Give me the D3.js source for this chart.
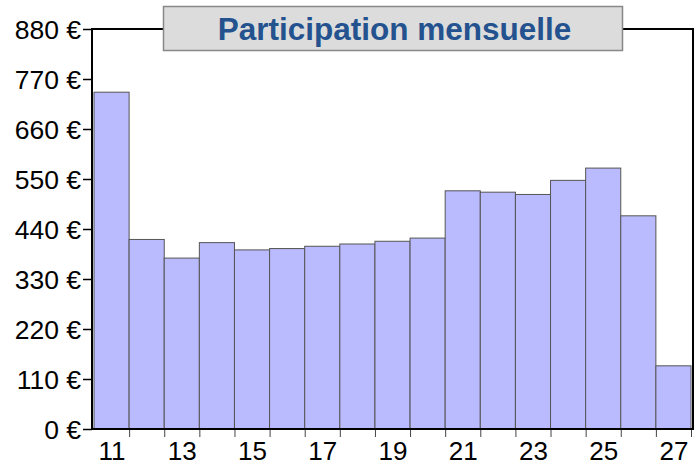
<!DOCTYPE html>
<html>
<head>
<meta charset="utf-8">
<script src="https://cdn.jsdelivr.net/npm/d3@7"></script>
<style>
  body { margin: 0; background: #fff; }
  text { font-family: "Liberation Sans", Arial, sans-serif; }
</style>
</head>
<body>
<script>
// values
const ages = [11, 12, 13, 14, 15, 16, 17, 18, 19, 20, 21, 22, 23, 24, 25, 26, 27];
const amounts = [741, 417, 376, 410, 394, 397, 402, 407, 413, 420, 524, 521, 516, 547, 574, 469, 139];
const yTicks = [0, 110, 220, 330, 440, 550, 660, 770, 880];
const xLabels = [11, 13, 15, 17, 19, 21, 23, 25, 27];
const title = "Participation mensuelle";

const svg = d3.select("body").append("svg")
    .attr("width", 698)
    .attr("height", 463);

let plotLeft = 92, plotRight = 693, plotTop = 29, plotBottom = 429;

let x = d3.scaleLinear()
    .domain([10.5, 27.5])
    .range([plotLeft + 2, plotRight - 2]);

let y = d3.scaleLinear()
    .domain([0, 880])
    .range([plotBottom, plotTop]);

// bars
svg.append("g")
    .selectAll("rect")
    .data(ages)
    .enter().append("rect")
    .attr("x", (d) => x(d - 0.5))
    .attr("y", (d, i) => y(amounts[i]))
    .attr("width", (d) => x(d + 0.5) - x(d - 0.5))
    .attr("height", (d, i) => y(0) - y(amounts[i]))
    .attr("fill", "#babafe")
    .attr("stroke", "#555")
    .attr("stroke-width", 1);

// frame
svg.append("rect")
    .attr("x", plotLeft)
    .attr("y", plotTop)
    .attr("width", plotRight - plotLeft)
    .attr("height", plotBottom - plotTop)
    .attr("fill", "none")
    .attr("stroke", "#000")
    .attr("stroke-width", 2);

// y axis
let yAxis = svg.append("g")
    .attr("transform", "translate(" + plotLeft + ",0)")
    .call(d3.axisLeft(y).tickValues(yTicks).tickSize(9).tickPadding(2).tickFormat((d) => d + " €"));
yAxis.select(".domain").remove();
yAxis.selectAll("line").attr("stroke", "#000").attr("stroke-width", 1.5);
yAxis.selectAll("text")
    .attr("fill", "#000")
    .style("font-size", "26.5px")
    .attr("dy", "0.35em");

// x axis: ticks on bar edges
let edges = ages.map((d) => d + 0.5);
let xAxis = svg.append("g")
    .attr("transform", "translate(0," + (plotBottom + 1) + ")")
    .call(d3.axisBottom(x).tickValues(edges).tickSize(7).tickFormat(""));
xAxis.select(".domain").remove();
xAxis.selectAll("line").attr("stroke", "#444");

let xLab = svg.append("g")
    .attr("transform", "translate(0," + (plotBottom + 1) + ")")
    .call(d3.axisBottom(x).tickValues(xLabels).tickSize(0).tickFormat(d3.format("d")));
xLab.select(".domain").remove();
xLab.selectAll("text")
    .attr("fill", "#000")
    .attr("y", 30)
    .attr("dy", null)
    .style("font-size", "26px");

// title box
svg.append("rect")
    .attr("x", 163.5)
    .attr("y", 6.5)
    .attr("width", 459)
    .attr("height", 44)
    .attr("fill", "#dcdcdc")
    .attr("stroke", "#888")
    .attr("stroke-width", 1.5);

svg.append("text")
    .attr("x", 394.5)
    .attr("y", 40)
    .attr("text-anchor", "middle")
    .attr("fill", "#23528f")
    .style("font-size", "31.5px")
    .style("font-weight", "bold")
    .text(title);
</script>
</body>
</html>
